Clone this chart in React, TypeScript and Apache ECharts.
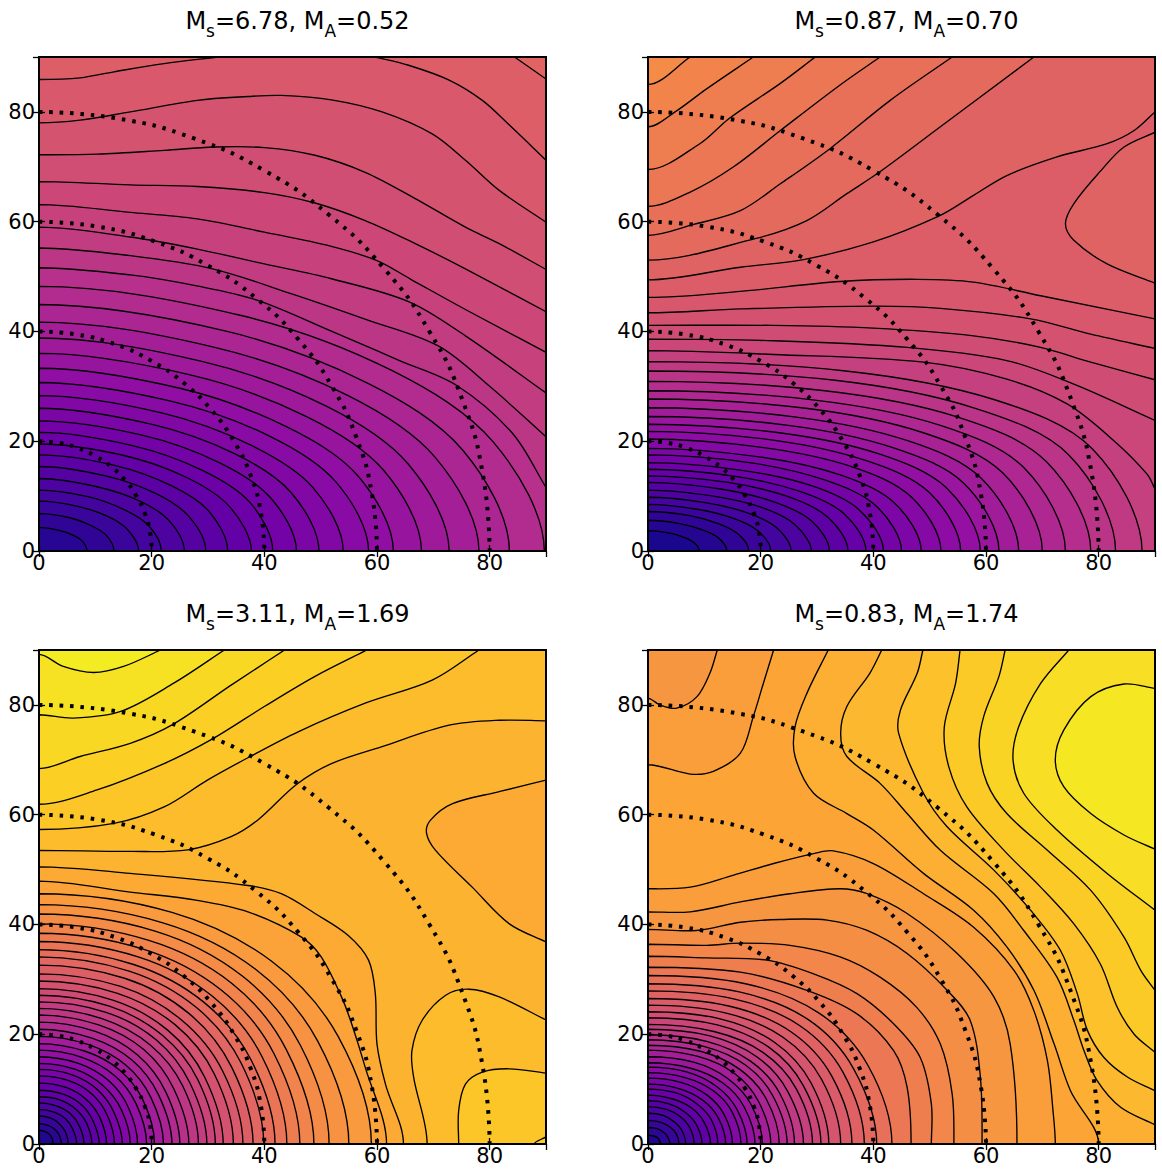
import React, { useEffect, useRef } from "react";
import * as echarts from "echarts";

// Contours in data units, flat [x,y,x,y,...], outermost band first.
const P1_LINES: number[][] = [
  [0,85.9,7.3,86.2,13.3,87.3,22.2,88.8,31.7,90],
  [59.7,90,65.6,88.5,72.8,85.8,78.7,82.1,83.5,77.6,90,71.2],
  [84.4,90,90,86],
  [0,78,7.3,78.5,16.2,80,28.1,82.1,37.1,82.8,43,83,51.9,82.2,60.9,80,69.8,76,75.7,71.2,81.7,65.7,90,59.9],
  [0,72.2,10.3,72.3,22.2,73,31.1,73.6,40,73.5,49,72.1,57.9,69,66.8,64.2,75.7,59,81.7,56,90,51.3],
  [0,67.3,16.2,66.7,28.1,66.4,40,65.3,49,63.4,57.9,60.2,66.8,56,75.7,51.4,90,43.6],
  [0,63.1,16.2,61.7,28.1,60.5,40,58.1,51.9,55.5,60,52.9,66,49.5,75.7,44,90,36.2],
  [0,59,16.2,57.2,28.1,55,40,52.3,51.9,49.6,65.7,45.4,75.7,39.2,90,28.8],
  [0,55.2,16.2,53.8,30.8,51.4,45,46.8,58,42.2,70.8,37.4,80,30,90,20.8],
  [0,51.6,16.2,50.3,28,48.3,38.7,45.7,52,40,64,34.7,74.1,30.2,84,21.5,90,11.6],
  [0,48.2,35.9,42.9,62.8,32.8,80.7,19.8,89.7,0],
  [0,44.9,33.4,40,58.5,30.5,75.2,18.4,83.5,0],
  [0,41.7,31.2,37.1,54.7,28.4,70.3,17.1,78.1,0],
  [0,38.8,29.1,34.5,51,26.4,65.5,15.9,72.8,0],
  [0,36,27.2,32,47.5,24.5,61.1,14.8,67.9,0],
  [0,33.3,25.2,29.6,44,22.6,56.6,13.7,62.9,0],
  [0,30.7,23.4,27.3,41,20.9,52.7,12.6,58.5,0],
  [0,28.3,21.6,25.2,37.8,19.2,48.6,11.6,54,0],
  [0,26,19.9,23.1,34.8,17.7,44.7,10.7,49.7,0],
  [0,23.7,18.3,21.1,32,16.1,41.1,9.7,45.7,0],
  [0,21.6,16.6,19.2,29,14.7,37.4,8.9,41.5,0],
  [0,19.5,15.1,17.4,26.4,13.3,33.9,8,37.7,0],
  [0,17.5,13.4,15.6,23.5,11.9,30.2,7.2,33.5,0],
  [0,15.4,11.8,13.7,20.7,10.5,26.6,6.3,29.6,0],
  [0,13.2,10.3,11.7,18.1,9,23.2,5.4,25.8,0],
  [0,11.1,8.7,9.9,15.2,7.5,19.5,4.6,21.7,0],
  [0,9.1,7.1,8.1,12.4,6.2,15.9,3.7,17.7,0],
  [0,6.8,5.3,6.1,9.3,4.6,12,2.8,13.3,0],
  [0,4.3,3.4,3.8,6,2.9,7.7,1.8,8.5,0],
];
const P1_LOCAL: Record<number, number> = { 0: 1, 1: 1, 2: 2 };

const P2_LINES: number[][] = [
  [0,85,7.5,90],
  [0,77.3,4.8,80,10.4,84.2,18.7,90],
  [0,69.5,9.2,74.2,14.4,78.8,23.5,85.2,29.7,90],
  [0,62.8,7.5,65.4,15.2,70,23.5,76.6,34.1,84.9,41.2,90],
  [0,57.5,8.1,59.5,16.4,62,23.5,66.9,32.3,73.3,43,82.1,54,90],
  [0,53,19,56.9,28.2,60.2,35.3,65.1,40.9,68.9,51.9,77.3,68.5,90],
  [0,49.4,16.4,51.7,27.6,53.1,40,56.3,51.6,61,57.8,64.8,63.7,68.4,72.6,71.8,81.5,74.2,86.3,76.6,90,80],
  [90,76.3,84.5,73.6,80.4,69.3,75.6,63.3,74.1,59.6,75.6,56.6,81.5,52.3,90,48.8],
  [0,46.2,16.4,47.3,34.1,49.1,47.7,49.5,57.8,49,69.7,46.5,90,42.3],
  [0,43.4,16.4,44.1,40,44.6,51.9,44.2,67.9,42.3,78.6,39.5,90,36.9],
  [0,41.1,22.3,41.1,40,40.6,57.8,39.2,69.7,37.1,78.6,34.4,90,31.2],
  [0,38.6,22.3,38.3,46,37.1,63.7,34.7,75.6,30.4,90,23.8],
  [0,36.5,22.3,35.8,48.9,34.4,63.7,31.3,74.4,26.8,82.7,20.1,88.6,14,90,11.3],
  [0,34.5,35.1,32.8,61.4,27.6,78.9,18.6,87.7,0],
  [0,32.8,33.2,31.1,58.1,26,74.7,17.5,83,0],
  [0,30.9,31.4,29.2,55,24.4,70.7,16.3,78.6,0],
  [0,29.2,29.6,27.5,51.9,22.9,66.7,15.2,74.1,0],
  [0,27.7,28,26,49,21.5,63,14.2,70,0],
  [0,26.1,26.3,24.4,46.1,20.1,59.2,13.2,65.8,0],
  [0,24.5,24.9,22.9,43.6,18.8,56.1,12.3,62.3,0],
  [0,23.1,23.6,21.5,41.3,17.6,53.1,11.4,59,0],
  [0,21.8,22.2,20.2,38.9,16.4,50,10.6,55.5,0],
  [0,20.4,20.8,18.8,36.4,15.3,46.8,9.8,52,0],
  [0,18.7,19.4,17.2,34,13.9,43.7,8.8,48.5,0],
  [0,17.5,18,16.1,31.5,12.9,40.5,8.2,45,0],
  [0,16.1,16.7,14.7,29.3,11.8,37.6,7.4,41.8,0],
  [0,14.9,15.5,13.6,27.1,10.8,34.8,6.8,38.7,0],
  [0,13.7,14.2,12.5,24.9,9.9,32,6.1,35.5,0],
  [0,12.5,12.9,11.3,22.5,8.9,29,5.5,32.2,0],
  [0,11.1,11.6,10,20.3,7.9,26.1,4.8,29,0],
  [0,9.8,10.2,8.8,17.8,6.9,22.9,4.2,25.4,0],
  [0,8.5,8.7,7.6,15.3,5.9,19.6,3.6,21.8,0],
  [0,7.2,7.2,6.5,12.5,5,16.1,3,17.9,0],
  [0,5.6,5.6,5,9.8,3.8,12.6,2.3,14,0],
  [0,3.7,3.6,3.3,6.4,2.5,8.2,1.5,9.1,0],
];
const P2_LOCAL: Record<number, number> = { 7: 1 };

const P3_LINES: number[][] = [
  [0,89.2,4.3,87,9.7,85.9,15,87,21.6,90],
  [0,78.2,6.1,77.6,14.5,78.8,24,84,32.9,90],
  [0,68.4,7.3,70.6,16.2,73,23.7,76.4,34.1,83.6,43.6,90],
  [0,61.9,10.3,64.5,22.2,69.3,30.8,73.8,40,79.7,49,85.2,58.2,90],
  [0,57.3,13.3,58.4,22.2,61.4,29.9,66.3,37.5,70.6,46,75.1,57.9,80.3,69.8,84.5,78.1,90],
  [0,53.5,16.2,53.3,26.4,53.6,34.1,56,38.8,59,45.7,65.5,51.9,69.3,60.9,72.4,72.8,76.3,81.7,77.2,90,77.1],
  [90,66.3,81.7,64.2,73.4,62,69.5,59,68.8,56.6,70.4,53.5,76.9,46.8,83.5,40.1,90,36.8],
  [68.9,0,66.5,12.2,66.2,17,68,22.5,72.2,27.1,76.3,28.2,81.7,26.8,90,22.6],
  [74.5,0,74.5,6.1,75.7,10.9,78.7,13.1,83.5,13.7,90,12.9],
  [87.9,0,90,1.3],
  [0,50.5,16.2,49.3,37.1,47.1,43,45.6,49,42,54.9,38,58.5,33.5,59.7,27.4,60,18.2,61.5,10.9,64.7,0],
  [0,47.9,16.2,45.9,28.1,44.4,37.1,42.3,46.6,37.7,50.1,34.1,53.7,26.8,55.5,21.9,57.9,14,61.7,0],
  [0,45.6,23.6,42.2,41.3,33.3,53.1,19.6,59,0],
  [0,43.6,22,40.3,38.5,31.8,49.5,18.7,55,0],
  [0,41.9,20.6,38.8,36.1,30.6,46.4,18,51.5,0],
  [0,40.1,19.5,37.1,34.2,29.3,43.9,17.2,48.8,0],
  [0,38.4,18.5,35.5,32.4,28,41.7,16.5,46.3,0],
  [0,36.9,17.6,34.1,30.8,26.9,39.6,15.9,44,0],
  [0,35.4,16.8,32.7,29.3,25.8,37.7,15.2,41.9,0],
  [0,34.1,16,31.5,27.9,24.9,35.9,14.7,39.9,0],
  [0,32.6,15.2,30.2,26.6,23.8,34.2,14,38,0],
  [0,31,14.5,28.7,25.3,22.6,32.6,13.3,36.2,0],
  [0,29.7,13.8,27.5,24.2,21.7,31.1,12.8,34.5,0],
  [0,28.3,13.1,26.2,22.9,20.7,29.4,12.2,32.7,0],
  [0,27.1,12.5,25.1,21.9,19.8,28.2,11.7,31.3,0],
  [0,25.9,11.9,24,20.9,18.9,26.8,11.1,29.8,0],
  [0,24.7,11.3,22.8,19.8,18,25.5,10.6,28.3,0],
  [0,23.5,10.6,21.7,18.6,17.2,23.9,10.1,26.6,0],
  [0,22.2,10,20.5,17.5,16.2,22.5,9.5,25,0],
  [0,20.9,9.4,19.3,16.5,15.3,21.2,9,23.6,0],
  [0,19.6,8.8,18.1,15.5,14.3,19.9,8.4,22.1,0],
  [0,18.3,8.2,16.9,14.4,13.4,18.5,7.9,20.5,0],
  [0,17.1,7.6,15.8,13.4,12.5,17.2,7.4,19.1,0],
  [0,15.9,7,14.7,12.3,11.6,15.8,6.8,17.5,0],
  [0,14.7,6.5,13.6,11.3,10.7,14.6,6.3,16.2,0],
  [0,13.6,5.9,12.6,10.4,9.9,13.3,5.8,14.8,0],
  [0,12.4,5.4,11.5,9.4,9.1,12.1,5.3,13.4,0],
  [0,11.1,4.8,10.3,8.4,8.1,10.8,4.8,12,0],
  [0,9.8,4.3,9.1,7.5,7.2,9.6,4.2,10.7,0],
  [0,8.6,3.8,8,6.6,6.3,8.5,3.7,9.4,0],
  [0,7.5,3.2,6.9,5.6,5.5,7.2,3.2,8,0],
  [0,6.3,2.7,5.8,4.7,4.6,6,2.7,6.7,0],
  [0,5.1,2.1,4.7,3.6,3.7,4.7,2.2,5.2,0],
  [0,3.7,1.6,3.4,2.8,2.7,3.6,1.6,4,0],
  [0,2.5,1,2.3,1.8,1.8,2.3,1.1,2.5,0],
];
const P3_LOCAL: Record<number, number> = { 6: -1, 7: 1, 8: 2, 9: 3 };

const P4_LINES: number[][] = [
  [90,83,84.5,83.8,78.6,81.5,73.8,75.4,72.3,70,73.8,65.1,78.6,60.2,84.5,56.3,90,53.7],
  [74.7,90,69.7,83.9,65.8,76,64.8,70,66.7,63.9,72.6,57.2,81.5,49.3,90,42.6],
  [63.4,90,62.3,85.2,59.6,77.9,58.8,72.4,60.2,65.7,63.7,60.2,70.9,53.5,78.6,46.2,84.5,37.7,87.5,31.6,90,28],
  [55.4,90,54.6,83.9,52.6,76,53.4,68.7,56.6,61.4,63.2,53.5,69.7,46.8,75.6,40.1,80.3,32.8,83.3,24.9,86.3,20,90,16.7],
  [48.8,90,47.8,85.8,44.8,79,44.5,74.8,48.9,63.9,53.1,57.8,61.4,49.9,67.9,42.6,73.2,35.3,76.2,27.4,78,20.7,80.9,15.8,85.1,12.2,90,9.7],
  [41.5,90,39.4,85.8,35.3,79.7,34.2,74.8,35.3,70.6,41.2,65.7,46,60.2,51.9,53.5,61.4,45.6,66.7,38.9,72.6,30.4,75.6,22.5,77.4,17,79.7,11.6,83.9,6.7,90,3.5],
  [32,90,28.2,82.1,26.1,76,26.1,70.6,29.4,63.9,35.3,60.2,40,57.2,48.9,49.3,57.8,42.6,63.7,35.9,68.5,28,72.1,18.2,75,9.7,80,0],
  [22.3,90,20.5,84,18.7,77.9,16.4,71.2,11.6,67.9,7.5,67.4,0,69.1],
  [12.3,90,11,85.8,8.7,81.5,5.1,79.4,2.1,80,0,81.2],
  [0,46.5,7.5,46.8,15.2,49,22.3,51.1,29.4,52.9,32.9,53.4,40,51.1,48.9,45.6,57.8,39.5,65,31.6,68.5,24.3,70.9,15.2,71.9,6,72.3,0],
  [0,42.3,7.5,42.3,16.4,44.1,25.2,45.6,34.1,46.5,38.9,45.6,46,42,54.9,34.7,61.4,26.8,64.3,18.2,65.5,0],
  [0,39.1,8.6,38.9,16.4,40.4,23.5,40.9,31.8,40.8,38.9,38.9,46,34.7,53.1,28,57.2,22.5,59,12.2,59.3,0],
  [0,36.4,10.4,36.2,16.4,36.6,25.2,36.2,34.1,34.1,41.2,30.4,47.7,24.9,51.9,18.2,54,9.1,54.3,0],
  [0,34.2,10.4,33.9,21.1,33.5,29.4,31,37.1,27.4,43.6,21.9,48.3,15.8,50.3,7.3,50.3,0],
  [0,32.2,16.4,31.3,28.2,28,37.1,23.7,43.6,17,46,10.3,46.7,0],
  [0,30.7,17.3,29.2,30.3,23.9,39,14.4,43.3,0],
  [0,29.2,16.2,27.7,28.4,22.7,36.5,13.7,40.6,0],
  [0,27.9,15.4,26.4,26.9,21.6,34.6,13.1,38.4,0],
  [0,26.5,14.5,25.1,25.3,20.5,32.6,12.4,36.2,0],
  [0,25.3,13.7,23.9,23.9,19.5,30.8,11.8,34.2,0],
  [0,24.1,12.8,22.8,22.5,18.5,28.9,11.2,32.1,0],
  [0,23,12.3,21.7,21.5,17.6,27.6,10.6,30.7,0],
  [0,21.8,11.7,20.5,20.4,16.7,26.3,10.1,29.2,0],
  [0,20.9,11,19.7,19.3,15.9,24.8,9.6,27.6,0],
  [0,19.9,10.4,18.7,18.2,15.1,23.4,9.2,26,0],
  [0,19,9.9,17.8,17.3,14.4,22.2,8.7,24.7,0],
  [0,18,9.3,16.9,16.3,13.6,21,8.2,23.3,0],
  [0,17.1,8.7,16,15.3,12.9,19.6,7.8,21.8,0],
  [0,15.9,8.1,14.9,14.2,11.9,18.3,7.2,20.3,0],
  [0,14.8,7.6,13.8,13.3,11.1,17.1,6.7,19,0],
  [0,14,7,13.1,12.3,10.4,15.8,6.3,17.6,0],
  [0,13,6.6,12.1,11.6,9.7,14.9,5.9,16.5,0],
  [0,12,6,11.2,10.5,8.9,13.5,5.4,15,0],
  [0,10.9,5.5,10.1,9.7,8,12.4,4.9,13.8,0],
  [0,10,5,9.3,8.7,7.3,11.2,4.5,12.4,0],
  [0,8.9,4.4,8.2,7.8,6.5,10,3.9,11.1,0],
  [0,7.9,3.8,7.3,6.7,5.7,8.6,3.5,9.6,0],
  [0,6.8,3.3,6.3,5.7,5,7.4,3,8.2,0],
  [0,5.6,2.7,5.2,4.7,4,6,2.5,6.7,0],
  [0,4.3,2.2,4,3.9,3.1,5,1.9,5.5,0],
  [0,3,1.6,2.8,2.7,2.2,3.5,1.3,3.9,0],
  [0,1.6,0.9,1.5,1.6,1.2,2,0.7,2.25,0],
];
const P4_LOCAL: Record<number, number> = { 7: -1, 8: -2 };

// Dotted arcs, read as [x, y].
const ARC_20 = [[0,20],[3.5,19.7],[6.8,18.8],[10,17.3],[12.9,15.3],[15.3,12.9],[17.3,10],[18.8,6.8],[19.7,3.5],[20,0]];
const ARC_40 = [[0,40],[6.9,39.4],[13.7,37.6],[20,34.6],[25.7,30.6],[30.6,25.7],[34.6,20],[37.6,13.7],[39.4,6.9],[40,0]];
const ARC_60 = [[0,60],[10.4,59.1],[20.5,56.4],[30,52],[38.6,46],[46,38.6],[52,30],[56.4,20.5],[59.1,10.4],[60,0]];
const ARC_80 = [[0,80],[13.9,78.8],[27.4,75.2],[40,69.3],[51.4,61.3],[61.3,51.4],[69.3,40],[75.2,27.4],[78.8,13.9],[80,0]];
const ARCS = [ARC_20, ARC_40, ARC_60, ARC_80];

const TITLE_MS = ["6.78", "0.87", "3.11", "0.83"];
const TITLE_MA = ["0.52", "0.70", "1.69", "1.74"];
const AXIS_MIN = 0;
const AXIS_MAX = 90;
const AXIS_STEP = 20;

// Colour of the band above the first contour, and the colour step per contour.
const BASE_T = [0.56, 0.72, 0.97, 0.96];
const STEP_T = [0.0197, 0.0204, 0.0228, 0.0231];
const LINES = [P1_LINES, P2_LINES, P3_LINES, P4_LINES];
const LOCALS = [P1_LOCAL, P2_LOCAL, P3_LOCAL, P4_LOCAL];

const PLASMA = ["#0d0887","#41049d","#6a00a8","#8f0da4","#b12a90","#cc4778","#e16462","#f2844b","#fca636","#fcce25","#f0f921"];
function plasma(t: number): string {
  const v = Math.min(0.9999, Math.max(0, t)) * 10;
  const i = Math.floor(v);
  const f = v - i;
  const c = (h: string, k: number) => parseInt(h.slice(k, k + 2), 16);
  const m = (k: number) => Math.round(c(PLASMA[i], k) * (1 - f) + c(PLASMA[i + 1], k) * f);
  return `rgb(${m(1)},${m(3)},${m(5)})`;
}

const RECTS = [
  { left: 39, top: 57 },
  { left: 648, top: 57 },
  { left: 39, top: 650 },
  { left: 648, top: 650 },
];
const W = 507;
const H = 494;

function perim(x: number, y: number): number {
  if (x <= 0) return y;
  if (y >= 90) return 90 + x;
  if (x >= 90) return 180 + (90 - y);
  return 270 + (90 - x);
}
const CORNERS: [number, number, number][] = [[0, 0, 0], [90, 0, 90], [180, 90, 90], [270, 90, 0]];

function closure(flat: number[], local: boolean): number[][] {
  const a = perim(flat[flat.length - 2], flat[flat.length - 1]);
  const b = perim(flat[0], flat[1]);
  const out: number[][] = [];
  if (local) {
    const cs = CORNERS.filter((c) => c[0] > Math.min(a, b) && c[0] < Math.max(a, b));
    if (a > b) cs.reverse();
    cs.forEach((c) => out.push([c[1], c[2]]));
  } else if (a > b) {
    CORNERS.filter((c) => c[0] > a).forEach((c) => out.push([c[1], c[2]]));
    CORNERS.filter((c) => c[0] < b).forEach((c) => out.push([c[1], c[2]]));
  } else {
    CORNERS.filter((c) => c[0] < a).reverse().forEach((c) => out.push([c[1], c[2]]));
    CORNERS.filter((c) => c[0] > b).reverse().forEach((c) => out.push([c[1], c[2]]));
  }
  return out;
}

function phantom(p: number[], q: number[]): number[] {
  if (p[0] <= 0) return [-q[0], q[1]];
  if (p[1] <= 0) return [q[0], -q[1]];
  return p;
}

function pathOf(flat: number[], local: boolean, api: any): string {
  const pts: number[][] = [];
  for (let i = 0; i < flat.length; i += 2) pts.push([flat[i], flat[i + 1]]);
  const n = pts.length;
  const px = pts.map((p) => api.coord(p));
  const before = n > 1 ? api.coord(phantom(pts[0], pts[1])) : px[0];
  const after = n > 1 ? api.coord(phantom(pts[n - 1], pts[n - 2])) : px[n - 1];
  const all = [before, ...px, after];
  const dist = (a: number[], b: number[]) => Math.hypot(a[0] - b[0], a[1] - b[1]);
  const tan = (j: number) => {
    const s = dist(all[j], all[j - 1]) + dist(all[j + 1], all[j]) || 1;
    return [(all[j + 1][0] - all[j - 1][0]) / s, (all[j + 1][1] - all[j - 1][1]) / s];
  };
  let d = `M${px[0][0]} ${px[0][1]}`;
  for (let i = 0; i < n - 1; i++) {
    const j = i + 1;
    const len = dist(all[j + 1], all[j]) / 3;
    const t1 = tan(j);
    const t2 = tan(j + 1);
    d += `C${all[j][0] + t1[0] * len} ${all[j][1] + t1[1] * len} ${all[j + 1][0] - t2[0] * len} ${all[j + 1][1] - t2[1] * len} ${all[j + 1][0]} ${all[j + 1][1]}`;
  }
  closure(flat, local).forEach((c) => {
    const q = api.coord(c);
    d += `L${q[0]} ${q[1]}`;
  });
  return d + "Z";
}

function buildOption() {
  const grid: any[] = [];
  const xAxis: any[] = [];
  const yAxis: any[] = [];
  const series: any[] = [];
  const title: any[] = [];
  const FONT = "DejaVu Sans";
  RECTS.forEach((r, k) => {
    grid.push({ left: r.left, top: r.top, width: W, height: H, show: true, z: 10, borderColor: "#000", borderWidth: 2, backgroundColor: "transparent" });
    [false, true].forEach((second) => {
      const base = {
        gridIndex: k, type: "value", min: AXIS_MIN, max: AXIS_MAX, interval: AXIS_STEP, z: 10,
        splitLine: { show: false },
        axisLine: { show: false },
        axisTick: { show: true, inside: true, length: 6, lineStyle: { color: "#000", width: 1.3 } },
      };
      xAxis.push({
        ...base, position: second ? "top" : "bottom",
        axisLabel: second ? { show: false } : { show: true, showMaxLabel: false, margin: 1, color: "#000", fontSize: 21, fontFamily: FONT },
      });
      yAxis.push({
        ...base, position: second ? "right" : "left",
        axisLabel: second ? { show: false } : { show: true, showMaxLabel: false, margin: 4, color: "#000", fontSize: 21, fontFamily: FONT },
      });
    });
    const axisX = k * 2;
    const axisY = k * 2;
    const lines = LINES[k];
    const local = LOCALS[k];
    const colors: string[] = [];
    let cur = BASE_T[k];
    lines.forEach((_, i) => {
      if (local[i] !== undefined) colors.push(plasma(cur + local[i] * STEP_T[k]));
      else {
        cur -= STEP_T[k];
        colors.push(plasma(cur));
      }
    });
    const bg = plasma(BASE_T[k]);
    series.push({
      type: "custom", xAxisIndex: axisX, yAxisIndex: axisY, clip: true, silent: true, z: 2,
      data: lines.map((_, i) => [i]),
      dimensions: ["line"],
      encode: { itemName: 0 },
      renderItem: (params: any, api: any) => {
        const i = api.value(0);
        const cs = params.coordSys;
        const children: any[] = [];
        if (i === 0) children.push({ type: "rect", shape: { x: cs.x, y: cs.y, width: cs.width, height: cs.height }, style: { fill: bg } });
        children.push({
          type: "path",
          shape: { pathData: pathOf(lines[i], local[i] !== undefined, api) },
          style: { fill: colors[i], stroke: "#000", lineWidth: 1.35 },
        });
        return { type: "group", children };
      },
    });
    ARCS.forEach((arc) => {
      series.push({
        type: "line", xAxisIndex: axisX, yAxisIndex: axisY, data: arc, smooth: true, showSymbol: false, symbol: "none",
        silent: true, z: 5, clip: true,
        lineStyle: { color: "#000", width: 4, type: [3.5, 6.9], cap: "butt" },
      });
    });
    const fmt = `{a|M}{b|s}{a|=${TITLE_MS[k]}, M}{b|A}{a|=${TITLE_MA[k]}}`;
    title.push({
      text: fmt, left: r.left + W / 2, top: r.top - 53, textAlign: "center",
      textStyle: {
        fontFamily: FONT, fontSize: 24, fontWeight: "normal", color: "#000",
        rich: {
          a: { fontFamily: FONT, fontSize: 24, color: "#000", lineHeight: 30, verticalAlign: "top", padding: [0, 0, 3, 0] },
          b: { fontFamily: FONT, fontSize: 17, color: "#000", lineHeight: 30, verticalAlign: "bottom", padding: [3, 0, 0, 0] },
        },
      },
    });
  });
  return { animation: false, backgroundColor: "#fff", title, grid, xAxis, yAxis, series };
}

export default function App() {
  const ref = useRef<HTMLDivElement>(null);
  useEffect(() => {
    const chart = echarts.init(ref.current!, undefined, { renderer: "svg" });
    chart.setOption(buildOption() as any);
    return () => chart.dispose();
  }, []);
  return <div ref={ref} style={{ position: "fixed", left: 0, top: 0, width: 1162, height: 1175 }} />;
}
